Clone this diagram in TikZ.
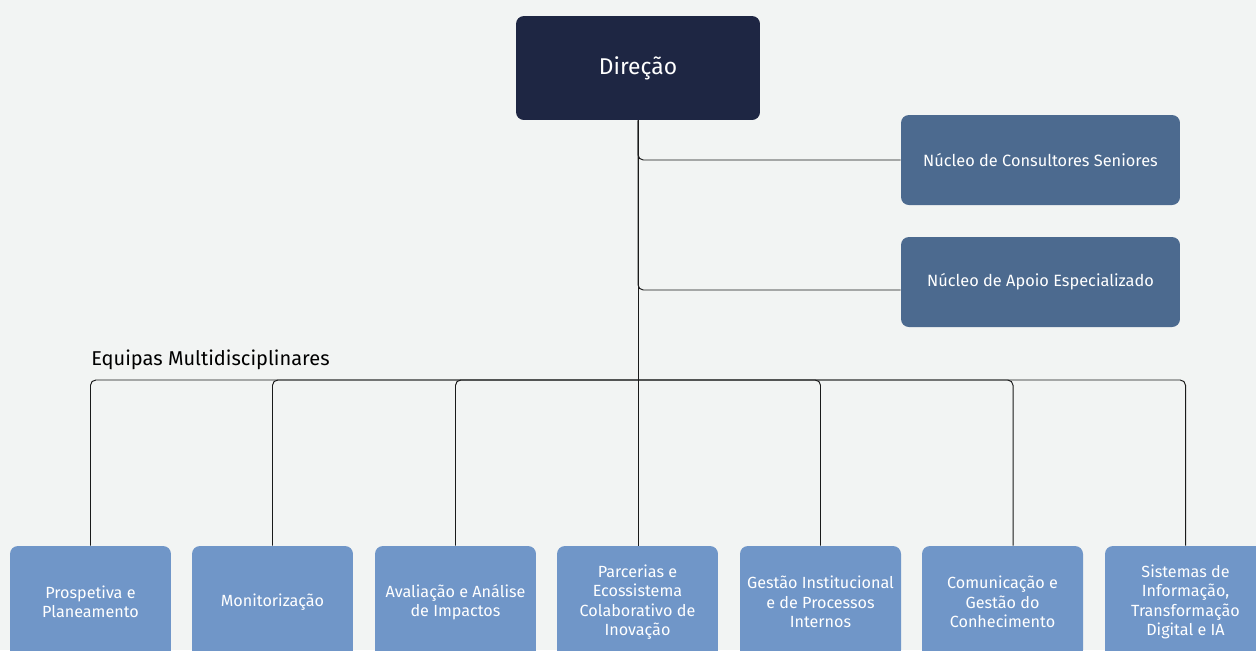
\documentclass[tikz,border=0pt]{standalone}
\usepackage{fontspec}
\setmainfont{Fira Sans}
\definecolor{bgcolor}{HTML}{F2F4F3}
\definecolor{dircolor}{HTML}{1E2643}
\definecolor{nucolor}{HTML}{4C6A8F}
\definecolor{eqcolor}{HTML}{7096C8}
\definecolor{linecolor}{HTML}{1A1A1A}
\newcommand{\rad}{4.5pt}
\tikzset{
  dirbox/.style={fill=dircolor, text=white, rounded corners=\rad, minimum width=4.88cm, minimum height=2.08cm, font=\fontsize{13pt}{15pt}\selectfont},
  nubox/.style={fill=nucolor, text=white, rounded corners=\rad, minimum width=5.58cm, minimum height=1.8cm, font=\fontsize{9.3pt}{11pt}\selectfont},
  eqbox/.style={fill=eqcolor, text=white, rounded corners=\rad, minimum width=3.22cm, minimum height=2.24cm, align=center, inner sep=1pt, font=\fontsize{9.2pt}{11pt}\selectfont},
  link/.style={draw=linecolor, line width=0.55pt, rounded corners=3pt}
}

\begin{document}
\begin{tikzpicture}[x=0.02cm, y=-0.02cm]
\useasboundingbox (0,0) rectangle (1256,650);
\clip (0,0) rectangle (1256,650);
\fill[bgcolor] (0,0) rectangle (1256,650);
% top
\node[dirbox] (dir) at (638,68) {Direção};
\node[nubox] (n1) at (1040.5,160) {Núcleo de Consultores Seniores};
\node[nubox] (n2) at (1040.5,282) {Núcleo de Apoio Especializado};
\node[anchor=base west, font=\fontsize{11.4pt}{13pt}\selectfont, text=black, inner sep=0pt] (eq) at (91,365) {Equipas Multidisciplinares};
% teams
\node[eqbox] (e1) at (90.5,602) {Prospetiva e\\Planeamento};
\node[eqbox] (e2) at (272.5,602) {Monitorização};
\node[eqbox] (e3) at (455.5,602) {Avaliação e Análise\\de Impactos};
\node[eqbox] (e4) at (637.5,602) {Parcerias e\\Ecossistema\\Colaborativo de\\Inovação};
\node[eqbox] (e5) at (820.5,602) {Gestão Institucional\\e de Processos\\Internos};
\node[eqbox] (e6) at (1002.5,602) {Comunicação e\\Gestão do\\Conhecimento};
\node[eqbox] (e7) at (1185.5,602) {Sistemas de\\Informação,\\Transformação\\Digital e IA};
% connectors
\coordinate (bus) at (638,380);
\draw[link] (dir.south) |- (n1.west);
\draw[link] (dir.south) |- ([yshift=-0.16cm]n2.west);
\draw[link] (dir.south) -- (bus);
\draw[link] (bus) -| (e1.north);
\draw[link] (bus) -| (e2.north);
\draw[link] (bus) -| (e3.north);
\draw[link] (bus) -- (e4.north -| bus);
\draw[link] (bus) -| (e5.north);
\draw[link] (bus) -| ([xshift=0.21cm]e6.north);
\draw[link] (bus) -| (e7.north);
\end{tikzpicture}
\end{document}
